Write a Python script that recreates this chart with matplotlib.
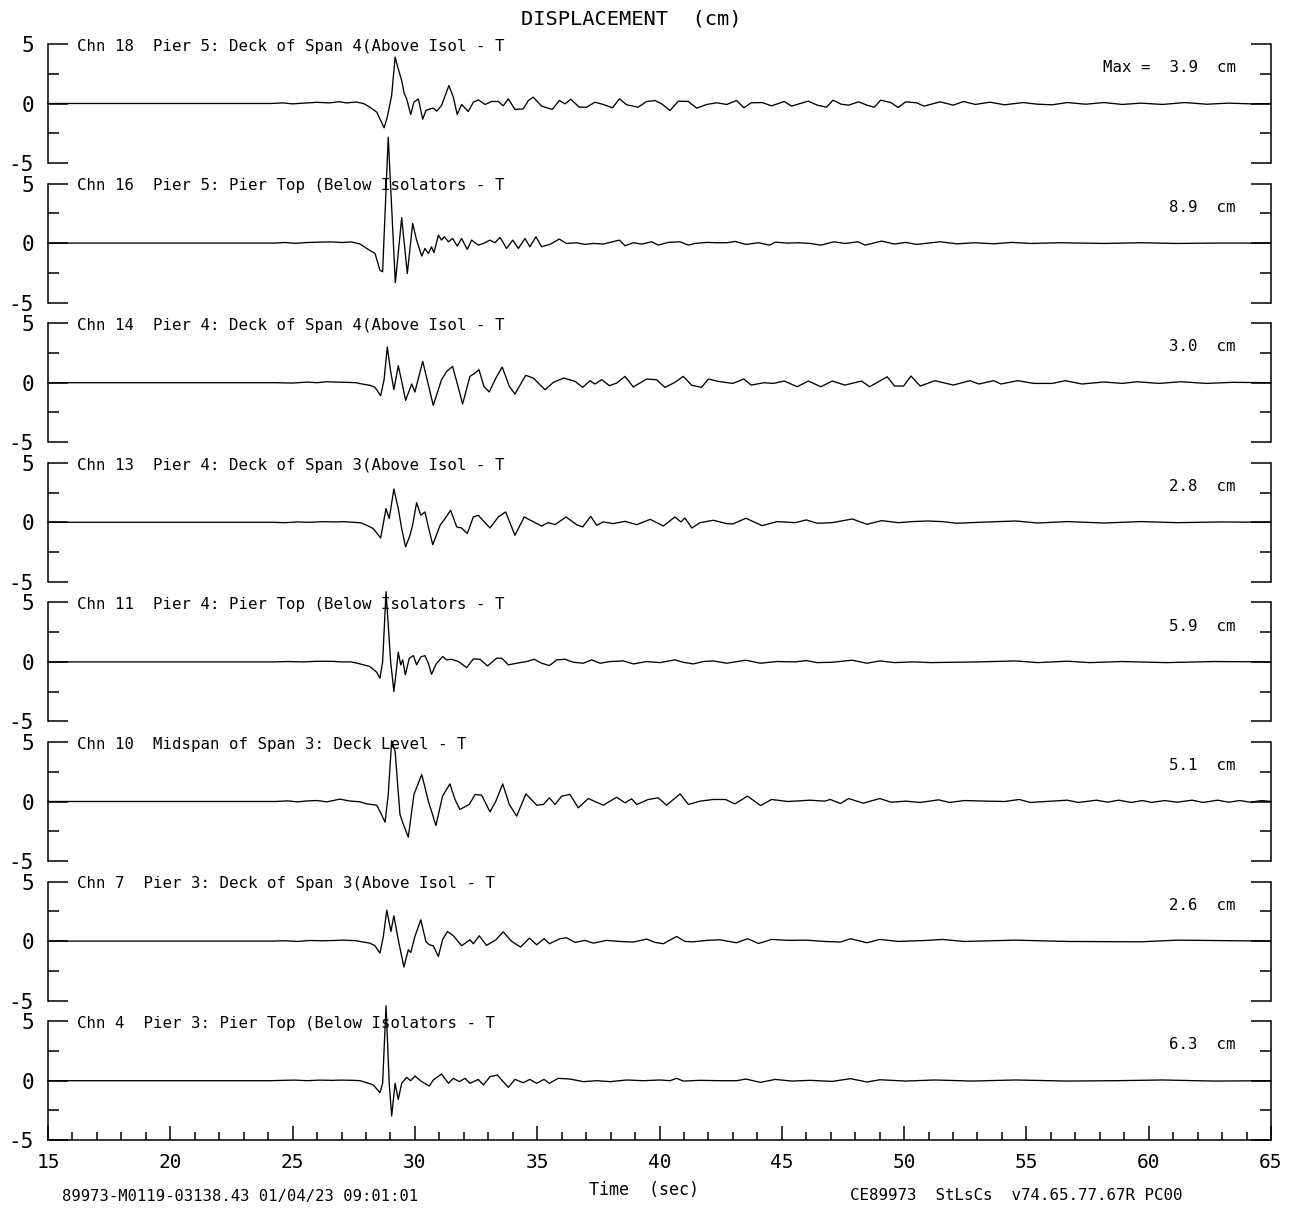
import matplotlib
matplotlib.use('Agg')
import matplotlib.pyplot as plt
from matplotlib.ticker import FixedLocator, MultipleLocator

plt.rcParams['font.family'] = ['DejaVu Sans Mono', 'DejaVu Sans']
plt.rcParams['axes.unicode_minus'] = False

# Channel labels and peak values (cm), top to bottom
labels = [
    "Chn 18  Pier 5: Deck of Span 4(Above Isol - T",
    "Chn 16  Pier 5: Pier Top (Below Isolators - T",
    "Chn 14  Pier 4: Deck of Span 4(Above Isol - T",
    "Chn 13  Pier 4: Deck of Span 3(Above Isol - T",
    "Chn 11  Pier 4: Pier Top (Below Isolators - T",
    "Chn 10  Midspan of Span 3: Deck Level - T",
    "Chn 7  Pier 3: Deck of Span 3(Above Isol - T",
    "Chn 4  Pier 3: Pier Top (Below Isolators - T",
]
max_vals = [3.9, 8.9, 3.0, 2.8, 5.9, 5.1, 2.6, 6.3]

# Displacement traces: time (sec) / displacement (cm)
t18 = [15.0, 24.1, 24.6, 25.0, 25.6, 26.0, 26.5, 26.9, 27.2, 27.6,
       27.9, 28.16, 28.44, 28.74, 28.87, 29.05, 29.19, 29.32, 29.46, 29.56,
       29.66, 29.83, 29.96, 30.14, 30.32, 30.45, 30.62, 30.75, 30.89, 31.09,
       31.39, 31.57, 31.73, 31.91, 32.18, 32.39, 32.59, 32.87, 33.14, 33.41,
       33.61, 33.82, 34.09, 34.43, 34.64, 34.84, 35.18, 35.62, 35.90, 36.14,
       36.37, 36.72, 37.02, 37.36, 37.70, 38.08, 38.36, 38.66, 39.13, 39.47,
       39.82, 40.09, 40.43, 40.77, 41.18, 41.52, 41.93, 42.34, 42.75, 43.15,
       43.45, 43.75, 44.2, 44.58, 45.1, 45.4, 46.08, 46.45, 46.83, 47.09,
       47.43, 47.73, 48.14, 48.48, 48.78, 49.04, 49.46, 49.76, 50.06, 50.51,
       50.81, 51.48, 52.01, 52.43, 52.91, 53.51, 54.11, 54.86, 55.46, 56.06,
       56.67, 57.42, 58.17, 58.92, 59.67, 60.57, 61.47, 62.37, 63.27, 64.17,
       65.0]
d18 = [0, 0, 0.05, -0.03, 0.05, 0.1, 0.05, 0.15, 0.05, 0.12,
       0.0, -0.31, -0.73, -2.04, -1.15, 0.67, 3.9, 2.9, 1.93, 0.87,
       0.4, -0.92, 0.1, 0.39, -1.32, -0.59, -0.45, -0.39, -0.64, -0.17,
       1.51, 0.53, -0.92, -0.08, -0.67, 0.11, 0.31, -0.08, 0.17, 0.17,
       -0.2, 0.39, -0.5, -0.45, 0.25, 0.53, -0.22, -0.5, 0.25, -0.03,
       0.36, -0.31, -0.31, 0.11, -0.08, -0.36, 0.39, -0.11, -0.31, 0.17,
       0.25, -0.03, -0.59, 0.2, 0.17, -0.39, -0.08, 0.06, -0.08, 0.25,
       -0.36, 0.06, 0.08, -0.2, 0.17, -0.22, 0.2, -0.14, -0.31, 0.28,
       -0.06, -0.14, 0.14, -0.14, -0.31, 0.28, 0.08, -0.34, 0.14, 0.06,
       -0.22, 0.14, -0.14, 0.17, -0.08, 0.11, -0.11, 0.08, -0.06, -0.11,
       0.08, -0.06, 0.08, -0.08, 0.03, -0.08, 0.08, -0.06, 0.03, -0.03,
       0.0]

t16 = [15.0, 24.2, 24.7, 25.1, 25.6, 26.1, 26.6, 27.0, 27.4, 27.76,
       28.03, 28.37, 28.57, 28.68, 28.91, 29.2, 29.46, 29.69, 29.91, 30.07,
       30.28, 30.41, 30.55, 30.68, 30.78, 30.96, 31.09, 31.2, 31.37, 31.54,
       31.73, 31.91, 32.14, 32.32, 32.59, 32.8, 33.07, 33.27, 33.48, 33.75,
       34.0, 34.23, 34.5, 34.7, 34.95, 35.18, 35.55, 35.9, 36.2, 36.61,
       36.95, 37.29, 37.7, 38.36, 38.59, 38.93, 39.27, 39.68, 39.95, 40.36,
       40.84, 41.18, 41.45, 41.93, 42.34, 42.75, 43.09, 43.53, 44.05, 44.5,
       44.73, 45.25, 45.7, 46.15, 46.6, 47.13, 47.58, 48.11, 48.41, 49.08,
       49.61, 50.06, 50.51, 51.48, 52.16, 52.91, 53.66, 54.41, 55.16, 56.36,
       58.17, 59.67, 61.17, 62.67, 65.0]
d16 = [0, 0, 0.05, -0.02, 0.05, 0.08, 0.1, 0.05, 0.1, -0.08,
       -0.45, -0.87, -2.27, -2.41, 8.9, -3.33, 2.13, -2.55, 1.65, 0.25,
       -1.09, -0.45, -0.87, -0.31, -0.81, 0.67, 0.25, 0.53, 0.11, 0.39,
       -0.25, 0.39, -0.53, 0.25, -0.17, -0.03, 0.25, 0.03, 0.48, -0.45,
       0.25, -0.45, 0.39, -0.31, 0.53, -0.31, -0.08, 0.34, -0.03, 0.03,
       -0.11, -0.03, -0.08, 0.25, -0.22, 0.03, -0.08, 0.11, -0.17, 0.06,
       0.11, -0.17, -0.03, 0.06, 0.03, 0.03, 0.14, -0.11, 0.03, -0.17,
       0.08, 0.0, 0.03, -0.03, -0.17, 0.11, -0.03, 0.11, -0.17, 0.17,
       -0.08, 0.06, -0.11, 0.11, -0.06, 0.03, -0.06, 0.06, -0.03, 0.03,
       -0.03, 0.03, -0.03, 0.0, 0.0]

t14 = [15.0, 24.3, 25.0, 25.6, 26.0, 26.4, 26.8, 27.2, 27.6, 27.76,
       28.16, 28.37, 28.6, 28.74, 28.87, 29.01, 29.14, 29.32, 29.46, 29.62,
       29.87, 30.0, 30.32, 30.55, 30.75, 31.09, 31.3, 31.54, 31.78, 31.95,
       32.25, 32.46, 32.62, 32.82, 33.04, 33.31, 33.57, 33.86, 34.09, 34.53,
       34.84, 35.32, 35.66, 36.09, 36.55, 36.86, 37.16, 37.36, 37.64, 37.95,
       38.25, 38.59, 38.93, 39.47, 39.88, 40.22, 40.63, 40.97, 41.32, 41.72,
       42.0, 42.4, 43.0, 43.45, 43.75, 44.28, 44.65, 45.1, 45.63, 46.08,
       46.6, 47.06, 47.58, 48.26, 48.59, 49.31, 49.61, 49.98, 50.28, 50.66,
       51.26, 52.01, 52.69, 53.06, 53.66, 53.96, 54.64, 55.31, 56.06, 56.59,
       57.27, 58.17, 58.92, 59.52, 60.42, 61.32, 62.37, 63.42, 65.0]
d14 = [0, 0, -0.03, 0.05, 0.0, 0.08, 0.05, 0.03, 0.0, -0.08,
       -0.22, -0.39, -1.09, 0.25, 3.0, 0.95, -0.59, 1.43, 0.11, -1.48,
       -0.11, -0.78, 1.79, -0.17, -1.9, 0.25, 0.95, 1.37, -0.45, -1.79,
       0.53, 0.81, 1.09, -0.31, -0.78, 0.39, 1.32, -0.31, -0.95, 0.62,
       0.39, -0.59, 0.03, 0.39, 0.11, -0.39, 0.17, -0.11, 0.25, -0.25,
       -0.03, 0.53, -0.36, 0.31, 0.25, -0.39, 0.03, 0.53, -0.22, -0.39,
       0.31, 0.11, -0.06, 0.31, -0.2, 0.0, -0.06, 0.14, -0.34, 0.14,
       -0.34, 0.14, -0.2, 0.14, -0.34, 0.5, -0.28, -0.28, 0.56, -0.28,
       0.17, -0.2, 0.17, -0.11, 0.17, -0.11, 0.17, -0.06, -0.06, 0.17,
       -0.11, 0.06, -0.06, 0.08, -0.06, 0.08, -0.06, 0.03, 0.0]

t13 = [15.0, 24.2, 24.7, 25.2, 25.7, 26.2, 26.7, 27.1, 27.5, 27.8,
       28.03, 28.3, 28.6, 28.82, 28.95, 29.14, 29.32, 29.46, 29.62, 29.8,
       29.91, 30.07, 30.24, 30.41, 30.55, 30.73, 31.03, 31.23, 31.46, 31.71,
       31.91, 32.14, 32.39, 32.59, 33.07, 33.41, 33.71, 34.09, 34.47, 34.91,
       35.18, 35.45, 35.73, 36.18, 36.61, 36.86, 37.19, 37.43, 37.7, 38.11,
       38.59, 39.07, 39.62, 40.16, 40.63, 40.87, 41.04, 41.32, 41.66, 42.2,
       42.75, 43.0, 43.53, 44.2, 44.8, 45.55, 46.0, 46.45, 47.06, 47.88,
       48.48, 49.08, 49.76, 50.36, 50.96, 51.56, 52.16, 53.06, 54.56, 55.46,
       56.67, 58.17, 59.67, 61.17, 62.97, 65.0]
d13 = [0, 0, -0.03, 0.03, 0.0, 0.05, 0.03, 0.05, 0.0, -0.05,
       -0.25, -0.53, -1.32, 1.15, 0.31, 2.8, 1.15, -0.53, -2.07, -1.09,
       -0.2, 1.65, 0.59, 0.87, -0.39, -1.88, -0.25, 0.31, 1.01, -0.39,
       -0.48, -0.95, 0.45, 0.59, -0.48, 0.45, 0.87, -1.09, 0.45, -0.03,
       -0.31, -0.03, -0.2, 0.45, -0.2, -0.39, 0.5, -0.25, 0.03, -0.11,
       0.08, -0.2, 0.25, -0.31, 0.45, 0.03, 0.36, -0.48, -0.03, 0.17,
       -0.11, -0.14, 0.34, -0.28, 0.06, -0.03, 0.2, -0.08, -0.03, 0.28,
       -0.17, 0.14, -0.03, 0.06, 0.11, 0.06, -0.08, 0.0, 0.11, -0.06,
       0.06, -0.06, 0.06, -0.03, 0.03, 0.0]

t11 = [15.0, 24.2, 24.8, 25.4, 26.0, 26.6, 27.0, 27.4, 27.76, 28.16,
       28.44, 28.57, 28.68, 28.82, 29.01, 29.14, 29.25, 29.32, 29.42, 29.5,
       29.61, 29.77, 29.94, 30.07, 30.24, 30.41, 30.55, 30.68, 30.86, 31.13,
       31.3, 31.5, 31.78, 32.12, 32.39, 32.66, 32.97, 33.34, 33.55, 33.82,
       34.16, 34.57, 34.88, 35.18, 35.5, 35.8, 36.14, 36.48, 36.89, 37.23,
       37.57, 37.98, 38.52, 38.93, 39.47, 40.02, 40.63, 40.97, 41.38, 41.79,
       42.2, 42.75, 43.53, 44.13, 44.8, 45.55, 46.0, 46.45, 47.06, 47.88,
       48.48, 49.01, 49.61, 50.36, 51.11, 52.01, 53.06, 54.56, 55.46, 56.67,
       57.57, 58.92, 60.72, 62.67, 65.0]
d11 = [0, 0, 0.03, 0.0, 0.05, 0.05, 0.0, 0.0, -0.17, -0.39,
       -0.87, -1.37, 0.0, 5.9, 0.0, -2.49, -0.53, 0.81, -0.25, 0.17,
       -1.09, 0.31, 0.53, -0.25, 0.42, 0.53, -0.11, -1.04, -0.2, 0.45,
       0.17, 0.22, 0.03, -0.48, 0.25, 0.22, -0.34, 0.31, 0.31, -0.25,
       -0.11, 0.03, 0.22, -0.11, -0.31, 0.17, 0.22, -0.03, -0.11, 0.17,
       -0.11, 0.03, 0.08, -0.17, 0.03, -0.06, 0.17, -0.03, -0.17, 0.03,
       0.08, -0.11, 0.14, -0.11, 0.03, 0.0, 0.11, -0.06, -0.03, 0.14,
       -0.11, 0.08, -0.06, 0.0, -0.06, -0.03, 0.0, 0.08, -0.06, 0.06,
       -0.06, 0.03, -0.06, 0.03, 0.0]

t10 = [15.0, 24.3, 24.8, 25.2, 25.6, 26.0, 26.4, 26.94, 27.3, 27.76,
       28.03, 28.44, 28.6, 28.78, 28.91, 29.05, 29.19, 29.39, 29.53, 29.73,
       29.96, 30.28, 30.55, 30.86, 31.13, 31.43, 31.64, 31.84, 32.22, 32.46,
       32.73, 33.07, 33.31, 33.59, 33.86, 34.16, 34.54, 34.98, 35.25, 35.5,
       35.73, 36.0, 36.34, 36.68, 37.09, 37.7, 38.25, 38.59, 38.86, 39.07,
       39.54, 39.95, 40.29, 40.84, 41.18, 41.66, 42.2, 42.7, 43.08, 43.6,
       44.13, 44.58, 45.25, 46.15, 46.75, 46.98, 47.4, 47.73, 48.33, 49.01,
       49.46, 50.06, 50.66, 51.41, 51.86, 52.46, 53.36, 54.11, 54.71, 55.16,
       56.67, 57.12, 57.87, 58.32, 58.77, 59.29, 59.74, 60.12, 60.65, 61.17,
       61.77, 62.22, 62.82, 63.27, 63.72, 64.17, 64.62, 65.0]
d10 = [0, 0, 0.05, -0.03, 0.05, 0.08, -0.03, 0.2, 0.05, -0.03,
       -0.2, -0.31, -0.95, -1.74, 0.59, 5.1, 4.23, -1.09, -1.93, -3.0,
       0.59, 2.27, 0.03, -2.02, 0.45, 1.48, 0.17, -0.67, -0.25, 0.59,
       0.53, -0.87, 0.03, 1.48, -0.25, -1.23, 0.64, -0.31, -0.25, 0.31,
       -0.25, 0.45, 0.59, -0.53, 0.25, -0.31, 0.36, -0.11, 0.22, -0.25,
       0.17, 0.31, -0.31, 0.64, -0.25, 0.03, 0.17, 0.17, -0.2, 0.45,
       -0.34, 0.17, 0.0, 0.11, 0.03, 0.17, -0.17, 0.25, -0.14, 0.25,
       -0.06, 0.03, -0.08, 0.14, -0.08, 0.08, 0.03, 0.0, 0.17, -0.08,
       0.11, -0.08, 0.11, -0.06, 0.11, -0.08, 0.08, -0.08, 0.08, -0.06,
       0.11, -0.08, 0.11, -0.06, 0.08, -0.06, 0.08, 0.0]

t7 = [15.0, 24.2, 24.7, 25.2, 25.7, 26.2, 26.7, 27.1, 27.6, 27.8,
      28.16, 28.37, 28.57, 28.71, 28.85, 29.02, 29.14, 29.32, 29.55, 29.73,
      29.83, 30.0, 30.24, 30.45, 30.59, 30.75, 30.96, 31.13, 31.33, 31.57,
      31.91, 32.25, 32.39, 32.63, 32.93, 33.31, 33.61, 33.96, 34.32, 34.68,
      34.98, 35.28, 35.5, 35.93, 36.2, 36.55, 36.95, 37.29, 37.84, 38.38,
      38.93, 39.47, 39.82, 40.16, 40.7, 41.04, 41.38, 41.93, 42.47, 43.15,
      43.6, 44.05, 44.58, 45.25, 46.0, 46.75, 47.4, 47.81, 48.48, 49.01,
      49.76, 50.96, 51.56, 52.46, 54.56, 56.67, 59.67, 61.17, 65.0]
d7 = [0, 0, 0.03, -0.03, 0.05, 0.03, 0.05, 0.08, 0.03, -0.05,
      -0.17, -0.39, -1.01, 0.39, 2.6, 0.81, 2.13, 0.11, -2.18, -0.73,
      -0.95, 0.39, 1.79, -0.03, -0.31, -0.39, -1.29, 0.11, 0.81, 0.45,
      -0.39, 0.11, -0.22, 0.45, -0.36, 0.11, 0.78, -0.03, -0.5, 0.25,
      -0.31, 0.2, -0.22, 0.2, 0.28, -0.11, 0.06, -0.17, 0.06, -0.03,
      -0.08, 0.17, -0.11, -0.22, 0.39, -0.03, -0.06, 0.06, 0.11, -0.14,
      0.2, -0.2, 0.14, 0.06, 0.08, -0.03, -0.08, 0.2, -0.14, 0.14,
      -0.03, 0.06, 0.14, -0.03, 0.08, -0.03, -0.06, 0.08, 0.0]

t4 = [15.0, 24.1, 24.6, 25.1, 25.6, 26.1, 26.6, 27.0, 27.5, 27.76,
      28.03, 28.3, 28.57, 28.68, 28.82, 28.95, 29.05, 29.19, 29.32, 29.46,
      29.66, 29.83, 30.0, 30.28, 30.59, 30.75, 31.09, 31.37, 31.57, 31.82,
      32.05, 32.25, 32.59, 32.8, 33.07, 33.37, 33.61, 33.82, 34.09, 34.43,
      34.7, 34.98, 35.28, 35.5, 35.86, 36.34, 36.89, 37.43, 37.98, 38.66,
      39.34, 40.02, 40.43, 40.7, 40.97, 41.66, 42.47, 43.15, 43.53, 44.13,
      44.73, 45.4, 46.15, 47.06, 47.81, 48.48, 49.01, 50.06, 51.26, 52.76,
      54.56, 56.67, 58.62, 60.57, 62.67, 65.0]
d4 = [0, 0, 0.03, 0.05, 0.0, 0.05, 0.03, 0.05, 0.03, 0.0,
      -0.17, -0.36, -1.01, -0.22, 6.3, -0.22, -2.97, -0.22, -1.57, -0.22,
      0.28, 0.0, 0.39, -0.08, -0.45, 0.06, 0.56, -0.22, 0.2, -0.08,
      0.2, -0.22, 0.11, -0.36, 0.34, 0.48, -0.08, -0.56, 0.11, -0.17,
      0.11, -0.22, 0.11, -0.22, 0.2, 0.14, -0.08, 0.0, -0.08, 0.06,
      0.0, 0.06, 0.0, 0.2, -0.03, 0.03, 0.0, 0.0, 0.14, -0.14,
      0.11, -0.03, 0.03, -0.06, 0.17, -0.11, 0.08, -0.03, 0.06, -0.03,
      0.06, -0.03, 0.0, 0.06, -0.03, 0.0]

times = [t18, t16, t14, t13, t11, t10, t7, t4]
disps = [d18, d16, d14, d13, d11, d10, d7, d4]

# Layout (pixels of the 1295x1211 canvas)
W, H = 1295, 1211
fig = plt.figure(figsize=(W / 100, H / 100), dpi=100)
ax_left = 48 / W
ax_w = (1271 - 48) / W
half = 59.5

for i in range(8):
    zero = 103.5 + 139.6 * i
    ax = fig.add_axes([ax_left, 1 - (zero + half) / H, ax_w, 2 * half / H])
    ax.plot(times[i], disps[i], color='black', lw=0.95, clip_on=False)
    ax.set_xlim(15, 65)
    ax.set_ylim(-5, 5)

    for side in ['left', 'right']:
        ax.spines[side].set_linewidth(1.1)
    ax.spines['top'].set_visible(False)
    ax.spines['bottom'].set_visible(i == 7)
    ax.spines['bottom'].set_linewidth(1.1)

    ax.yaxis.set_major_locator(FixedLocator([-5, 0, 5]))
    ax.yaxis.set_minor_locator(FixedLocator([-2.5, 2.5]))
    ax.set_yticklabels(['-5', '0', '5'])
    ax.tick_params(axis='y', which='major', direction='in', length=14.4, width=1.1,
                   left=True, right=True, labelsize=15, pad=10)
    ax.tick_params(axis='y', which='minor', direction='in', length=7.9, width=1.1,
                   left=True, right=True)

    if i == 7:
        ax.xaxis.set_major_locator(MultipleLocator(5))
        ax.xaxis.set_minor_locator(MultipleLocator(1))
        ax.tick_params(axis='x', which='major', direction='in', length=10, width=1.1,
                       labelsize=14, pad=9)
        ax.tick_params(axis='x', which='minor', direction='in', length=5.5, width=1.1)
    else:
        ax.tick_params(axis='x', which='both', bottom=False, labelbottom=False)

    ax.text(16.19, 4.8, labels[i], fontsize=11.3, ha='left', va='center')
    if i == 0:
        mtxt = "Max =  %.1f  cm" % max_vals[i]
    else:
        mtxt = "%.1f  cm" % max_vals[i]
    ax.text(63.55, 3.0, mtxt, fontsize=11.3, ha='right', va='center')

fig.text(631 / W, 1 - 19 / H, "DISPLACEMENT  (cm)", fontsize=14.7, ha='center', va='center')
fig.text(644 / W, 1 - 1190 / H, "Time  (sec)", fontsize=12, ha='center', va='center')
fig.text(62 / W, 1 - 1196 / H, "89973-M0119-03138.43 01/04/23 09:01:01", fontsize=11.2,
         ha='left', va='center')
fig.text(850 / W, 1 - 1196 / H, "CE89973  StLsCs  v74.65.77.67R PC00", fontsize=11.4,
         ha='left', va='center')

fig.savefig('out.png', dpi=100, facecolor='white')
